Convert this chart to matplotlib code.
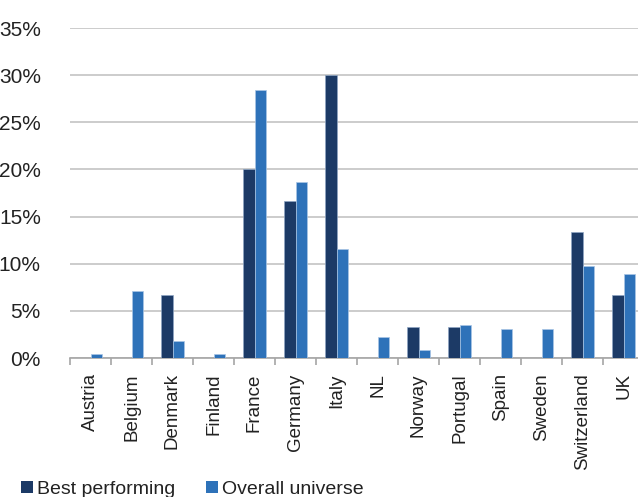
import matplotlib
matplotlib.use("Agg")
import matplotlib.pyplot as plt
import numpy as np
from matplotlib.ticker import FixedLocator, FuncFormatter
from matplotlib.patches import Patch

countries = ["Austria", "Belgium", "Denmark", "Finland", "France", "Germany", "Italy",
             "NL", "Norway", "Portugal", "Spain", "Sweden", "Switzerland", "UK"]
best_performing = [0, 0, 6.67, 0, 20.0, 16.67, 30.0, 0, 3.33, 3.33, 0, 0, 13.33, 6.67]
overall_universe = [0.4, 7.1, 1.77, 0.4, 28.45, 18.66, 11.56, 2.19, 0.88, 3.53, 3.08, 3.08, 9.79, 8.87]
yticks = [0, 5, 10, 15, 20, 25, 30, 35]
series_names = ["Best performing", "Overall universe"]

plt.rcParams['font.family'] = ['Liberation Sans', 'DejaVu Sans']

W, H = 638, 497
fig = plt.figure(figsize=(W / 100, H / 100), dpi=100)
left, right, top, bottom = 70, 644, 28, 358
ax = fig.add_axes([left / W, 1 - bottom / H, (right - left) / W, (bottom - top) / H])

x = np.arange(len(countries))
bw = 0.285
c_dark = "#1c3a66"
c_blue = "#2e72b9"
ax.bar(x - bw / 2, best_performing, width=bw, color=c_dark, edgecolor="#8fa6c4", linewidth=0.5, zorder=3)
ax.bar(x + bw / 2, overall_universe, width=bw, color=c_blue, edgecolor="#a9c6e6", linewidth=0.5, zorder=3)

ax.set_xlim(-0.5, len(countries) - 0.5)
ax.set_ylim(0, 35)
ax.set_yticks(yticks)
ax.yaxis.set_major_formatter(FuncFormatter(lambda v, p: f"{int(v)}%"))
ax.grid(axis="y", color="#c4c4c4", linewidth=1.2, zorder=0)
ax.tick_params(axis="y", length=0, pad=21, labelsize=15, colors="#222222")

ax.xaxis.set_major_locator(FixedLocator(np.arange(len(countries) + 1) - 0.5))
ax.xaxis.set_minor_locator(FixedLocator(x))
ax.set_xticklabels([], minor=False)
ax.set_xticklabels(countries, minor=True, rotation=90, fontsize=13.5, color="#222222")
ax.tick_params(axis="x", which="major", length=5, width=1.2, color="#a6a6a6")
ax.tick_params(axis="x", which="minor", length=0, pad=11)

for s in ["left", "right", "top"]:
    ax.spines[s].set_visible(False)
ax.spines["bottom"].set_color("#a6a6a6")
ax.spines["bottom"].set_linewidth(1.2)
ax.set_axisbelow(True)

handles = [Patch(facecolor=c_dark), Patch(facecolor=c_blue)]
leg = fig.legend(handles, series_names, loc="lower left", bbox_to_anchor=(21 / W, -1 / H), ncol=2,
                 frameon=False, fontsize=14, handlelength=0.62, handleheight=0.62, handletextpad=0.2,
                 columnspacing=1.6, borderaxespad=0, borderpad=0)
for t in leg.get_texts():
    t.set_color("#222222")

fig.savefig("out.png", dpi=100)
